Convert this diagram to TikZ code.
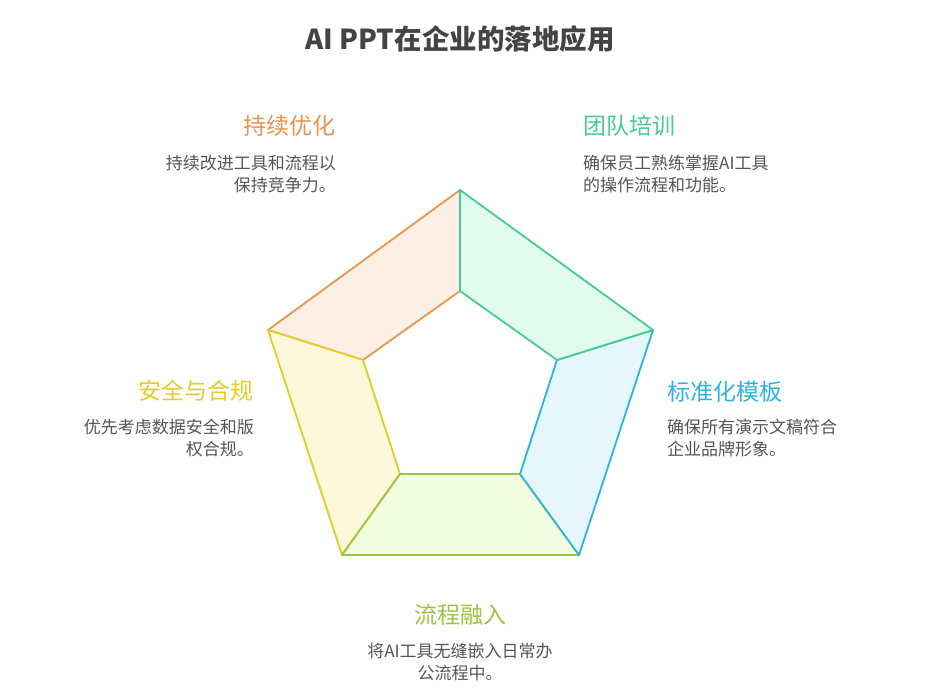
\documentclass[tikz,border=0pt]{standalone}
\usepackage{fontspec}
\setmainfont{Noto Sans CJK SC}
\definecolor{orgS}{HTML}{E8954F}\definecolor{orgF}{HTML}{FDEFE3}
\definecolor{grnS}{HTML}{45CC8E}\definecolor{grnF}{HTML}{E1FBEF}
\definecolor{bluS}{HTML}{2DB4DC}\definecolor{bluF}{HTML}{E5F7FD}
\definecolor{limS}{HTML}{9CC43E}\definecolor{limF}{HTML}{F2FCDF}
\definecolor{yelS}{HTML}{E6CB24}\definecolor{yelF}{HTML}{FEF8DA}
\definecolor{txt}{HTML}{555555}
\definecolor{ttl}{HTML}{444444}
\tikzset{
  seg/.style={line width=1.8pt,line join=round},
  head/.style={inner sep=0pt,font=\fontsize{23}{27}\selectfont},
  desc/.style={inner sep=0pt,text=txt,font=\fontsize{17}{21.5}\selectfont},
}
\begin{document}
\begin{tikzpicture}[x=1pt,y=-1pt]
\useasboundingbox (0,0) rectangle (937,698);
% outer vertices
\coordinate (oT) at (460,190);
\coordinate (oR) at (653,330);
\coordinate (oBR) at (579,555);
\coordinate (oBL) at (342,555);
\coordinate (oL) at (268,330);
% inner vertices
\coordinate (iT) at (460,291);
\coordinate (iR) at (557,360);
\coordinate (iBR) at (520,474);
\coordinate (iBL) at (400,474);
\coordinate (iL) at (363,360);
% segments
\draw[seg,draw=orgS,fill=orgF] (oL) -- (oT) -- (iT) -- (iL) -- cycle;
\draw[seg,draw=yelS,fill=yelF] (oBL) -- (oL) -- (iL) -- (iBL) -- cycle;
\draw[seg,draw=limS,fill=limF] (oBR) -- (oBL) -- (iBL) -- (iBR) -- cycle;
\draw[seg,draw=bluS,fill=bluF] (oR) -- (oBR) -- (iBR) -- (iR) -- cycle;
\draw[seg,draw=grnS,fill=grnF] (oT) -- (oR) -- (iR) -- (iT) -- cycle;
% title
\node[inner sep=0pt,anchor=base,text=ttl,font=\fontsize{27.5}{32}\selectfont\bfseries] (title) at (460,50) {AI PPT在企业的落地应用};
% labels
\node[head,text=orgS,anchor=base east] (h1) at (336,135) {持续优化};
\node[desc,anchor=base east,align=right] (d1) at (336,191) {持续改进工具和流程以\\保持竞争力。};
\node[head,text=grnS,anchor=base west] (h2) at (583,135) {团队培训};
\node[desc,anchor=base west,align=left] (d2) at (583,191) {确保员工熟练掌握AI工具\\的操作流程和功能。};
\node[head,text=yelS,anchor=base east] (h3) at (254,399) {安全与合规};
\node[desc,anchor=base east,align=right] (d3) at (254,455) {优先考虑数据安全和版\\权合规。};
\node[head,text=bluS,anchor=base west] (h4) at (667,400) {标准化模板};
\node[desc,anchor=base west,align=left] (d4) at (667,455) {确保所有演示文稿符合\\企业品牌形象。};
\node[head,text=limS,anchor=base] (h5) at (460,623) {流程融入};
\node[desc,anchor=base,align=center] (d5) at (460,679) {将AI工具无缝嵌入日常办\\公流程中。};
\end{tikzpicture}
\end{document}
